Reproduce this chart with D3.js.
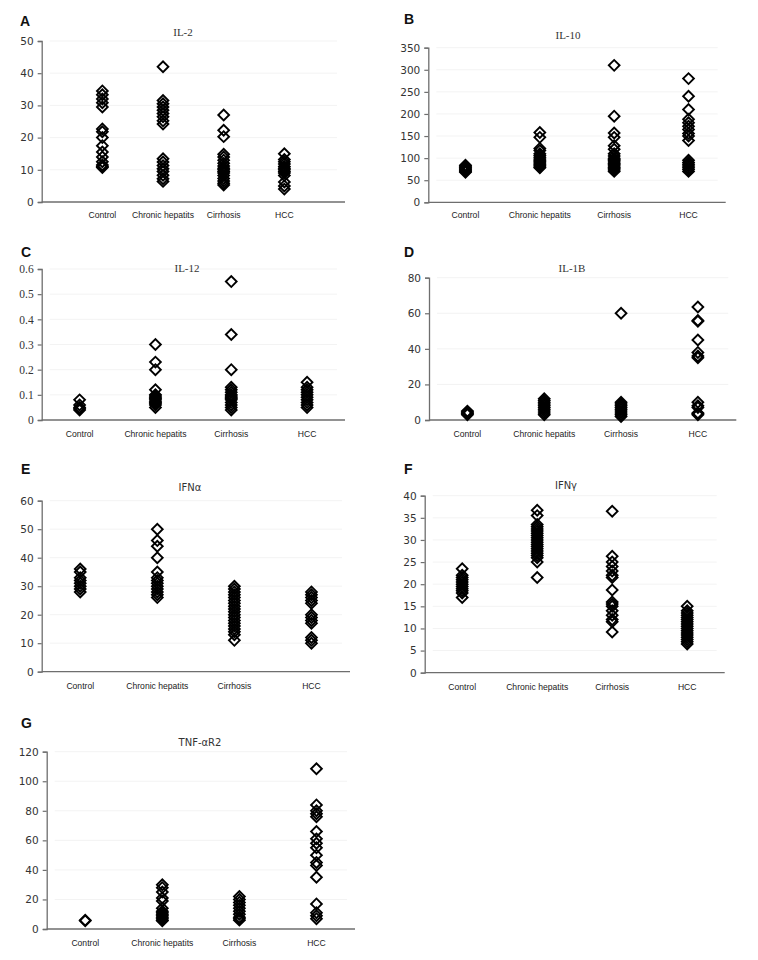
<!DOCTYPE html>
<html><head><meta charset="utf-8">
<script src="https://cdn.jsdelivr.net/npm/d3@7"></script>
<style>
html,body{margin:0;padding:0;background:#fff;}
svg{display:block;}
</style></head>
<body>
<svg id="chart" width="758" height="960"></svg>
<script>
// ---------- DATA ----------
const categories = ["Control", "Chronic hepatits", "Cirrhosis", "HCC"];

const il2 = [
  [34.5, 33.3, 32.0, 30.8, 29.5, 22.7, 21.8, 20.0, 17.5, 15.5, 14.0, 12.5, 11.5, 11.0, 10.7],
  [42.0, 31.5, 30.5, 29.5, 28.5, 27.5, 26.5, 25.2, 24.2, 13.4, 12.4, 11.3, 10.3, 9.5, 8.3, 7.2, 6.4],
  [27.0, 22.3, 20.3, 14.8, 14.0, 13.0, 12.0, 11.2, 10.5, 10.0, 9.5, 9.0, 8.2, 7.3, 6.5, 5.8, 5.3],
  [15.0, 13.2, 12.5, 11.8, 11.0, 10.5, 10.0, 9.5, 9.0, 8.2, 6.2, 5.0, 4.0]
];
const il2Ticks = [0, 10, 20, 30, 40, 50];

const il10 = [
  [84, 82, 80, 78, 76, 74, 72, 70, 68],
  [158, 147, 122, 117, 110, 106, 102, 98, 95, 92, 89, 86, 83, 80, 78],
  [310, 195, 157, 147, 128, 120, 110, 105, 100, 97, 94, 91, 88, 85, 82, 79, 76, 73, 70],
  [280, 240, 210, 188, 180, 172, 165, 156, 150, 140, 95, 90, 86, 82, 78, 74, 70]
];
const il10Ticks = [0, 50, 100, 150, 200, 250, 300, 350];

const il12 = [
  [0.08, 0.06, 0.05, 0.045, 0.04],
  [0.30, 0.23, 0.20, 0.12, 0.10, 0.095, 0.09, 0.085, 0.08, 0.075, 0.07, 0.065, 0.06, 0.05],
  [0.55, 0.34, 0.20, 0.13, 0.12, 0.11, 0.10, 0.095, 0.09, 0.085, 0.08, 0.07, 0.06, 0.05, 0.04],
  [0.15, 0.13, 0.12, 0.11, 0.10, 0.09, 0.08, 0.07, 0.06, 0.05]
];
const il12Ticks = [0, 0.1, 0.2, 0.3, 0.4, 0.5, 0.6];

const il1b = [
  [5.0, 4.5, 4.0, 3.5, 3.0],
  [12, 11, 10, 9, 8, 7, 6, 5, 4, 3],
  [60, 10, 9, 8, 7, 6, 5, 4, 3, 2],
  [63.5, 56, 55.5, 45, 38, 36, 35, 10, 8, 7, 4, 3.5, 3]
];
const il1bTicks = [0, 20, 40, 60, 80];

const ifna = [
  [36, 35, 33, 32, 31, 30, 29, 28],
  [50, 46, 44, 40, 35, 33, 32, 31, 30, 29, 28, 27, 26],
  [30, 29, 28, 27, 26, 25, 24, 23, 22, 21, 20, 19, 18, 17, 16, 15, 14, 13, 11],
  [28, 27, 26, 25, 24, 20, 19, 18, 17, 12, 11, 10]
];
const ifnaTicks = [0, 10, 20, 30, 40, 50, 60];

const ifng = [
  [23.5, 22, 21.5, 21, 20.5, 20, 19.5, 19, 18.5, 18, 17],
  [36.7, 35.5, 33.5, 33, 32.5, 32, 31.5, 31, 30.5, 30, 29.5, 29, 28.5, 28, 27.5, 27, 26.5, 26, 25, 21.5],
  [36.5, 26.3, 25, 24, 23, 22, 21.5, 18.7, 16, 15.5, 15, 14, 13, 12, 11.5, 9.2],
  [15, 14, 13.5, 13, 12.5, 12, 11.5, 11, 10.5, 10, 9.5, 9, 8.5, 8, 7.5, 7, 6.5]
];
const ifngTicks = [0, 5, 10, 15, 20, 25, 30, 35, 40];

const tnfr2 = [
  [6, 5.5],
  [30, 28, 25, 21, 19, 14, 12, 11, 10, 9, 8, 7, 6, 5.5],
  [22, 20, 18, 16, 14, 12, 10, 8, 7, 6],
  [108.5, 84, 80, 78, 76, 66, 61, 58, 55, 50, 45, 43, 35, 17, 11, 9, 7]
];
const tnfr2Ticks = [0, 20, 40, 60, 80, 100, 120];

// ---------- LAYOUT ----------
const panels = [
  {letter:"A", title:"IL-2", titleFont:"Liberation Serif", tickFont:"DejaVu Sans", data:il2, ticks:il2Ticks, fmt:d=>d,
   x0:41.7, x1:345, yTop:41, yBot:202, pad:1, tx:183, ty:32, lx:20, ly:26, cy:215},
  {letter:"B", title:"IL-10", titleFont:"Liberation Serif", tickFont:"DejaVu Sans", data:il10, ticks:il10Ticks, fmt:d=>d,
   x0:428.3, x1:725.7, yTop:47.7, yBot:202.3, pad:0.5, tx:568, ty:35, lx:404, ly:24, cy:215},
  {letter:"C", title:"IL-12", titleFont:"Liberation Serif", tickFont:"Liberation Serif", data:il12, ticks:il12Ticks, fmt:d=>d3.format(".1f")(d).replace(/^0\.0$/,"0"),
   x0:41.7, x1:345, yTop:269, yBot:420, pad:0.5, tx:187, ty:268, lx:21, ly:257, cy:434},
  {letter:"D", title:"IL-1B", titleFont:"Liberation Serif", tickFont:"DejaVu Sans", data:il1b, ticks:il1bTicks, fmt:d=>d,
   x0:429, x1:736.3, yTop:277.7, yBot:420, pad:0.5, tx:572, ty:268, lx:404, ly:257, cy:434},
  {letter:"E", title:"IFN\u03b1", titleFont:"DejaVu Sans", tickFont:"DejaVu Sans", data:ifna, ticks:ifnaTicks, fmt:d=>d,
   x0:41.7, x1:350, yTop:500.7, yBot:671.7, pad:0.5, tx:190, ty:487, lx:21, ly:474, cy:686},
  {letter:"F", title:"IFN\u03b3", titleFont:"DejaVu Sans", tickFont:"DejaVu Sans", data:ifng, ticks:ifngTicks, fmt:d=>d,
   x0:424.7, x1:724.7, yTop:495.7, yBot:672.7, pad:0.5, tx:566, ty:485, lx:404, ly:474, cy:687},
  {letter:"G", title:"TNF-\u03b1R2", titleFont:"DejaVu Sans", tickFont:"DejaVu Sans", data:tnfr2, ticks:tnfr2Ticks, fmt:d=>d,
   x0:46.7, x1:355, yTop:751.7, yBot:929, pad:0.5, tx:200, ty:742, lx:21, ly:728, cy:943}
];

const svg = d3.select("#chart");
const diamond = d3.symbol().type(d3.symbolSquare).size(58);

panels.forEach(p => {
  const g = svg.append("g");
  const x = d3.scalePoint().domain(categories).range([p.x0, p.x1]).padding(p.pad);
  const ymax = p.ticks[p.ticks.length - 1];
  const y = d3.scaleLinear().domain([0, ymax]).range([p.yBot, p.yTop]);

  // faint gridlines
  g.append("g").selectAll("line").data(p.ticks.slice(1)).join("line")
    .attr("x1", p.x0 + 8).attr("x2", p.x1 - 8)
    .attr("y1", d => y(d)).attr("y2", d => y(d))
    .attr("stroke", "#f3f3f3").attr("stroke-width", 1);

  // y axis
  const ya = g.append("g").attr("transform", `translate(${p.x0},0)`)
    .call(d3.axisLeft(y).tickValues(p.ticks).tickSize(4).tickPadding(4).tickFormat(p.fmt));
  ya.select(".domain").attr("stroke", "#6e6e6e").attr("stroke-width", 1.3);
  ya.selectAll(".tick line").attr("stroke", "#6e6e6e").attr("stroke-width", 1.2);
  ya.selectAll(".tick text").attr("fill", "#333")
    .attr("font-family", p.tickFont).attr("font-size", p.tickFont === "Liberation Serif" ? 11.5 : 10.5);

  // x axis line
  g.append("line").attr("x1", p.x0).attr("x2", p.x1).attr("y1", p.yBot).attr("y2", p.yBot)
    .attr("stroke", "#6e6e6e").attr("stroke-width", 1.3);

  // category labels
  g.append("g").selectAll("text").data(categories).join("text")
    .attr("x", d => x(d)).attr("y", p.cy + 3)
    .attr("text-anchor", "middle")
    .attr("font-family", "Liberation Sans").attr("font-size", 8.6).attr("fill", "#222")
    .text(d => d);

  // title
  g.append("text").attr("x", p.tx).attr("y", p.ty + 3.5).attr("text-anchor", "middle")
    .attr("font-family", p.titleFont).attr("font-size", p.titleFont === "Liberation Serif" ? 11 : 10)
    .attr("fill", "#333").text(p.title);

  // panel letter
  g.append("text").attr("x", p.lx).attr("y", p.ly)
    .attr("font-family", "Liberation Sans").attr("font-weight", "bold").attr("font-size", 14)
    .attr("fill", "#111").text(p.letter);

  // points
  const pts = [];
  p.data.forEach((vals, i) => vals.forEach(v => pts.push({c: categories[i], v})));
  g.append("g").selectAll("path").data(pts).join("path")
    .attr("d", diamond)
    .attr("transform", d => `translate(${x(d.c)},${y(d.v)}) rotate(45)`)
    .attr("fill", "none").attr("stroke", "#000").attr("stroke-width", 1.9);
});
</script>
</body></html>
